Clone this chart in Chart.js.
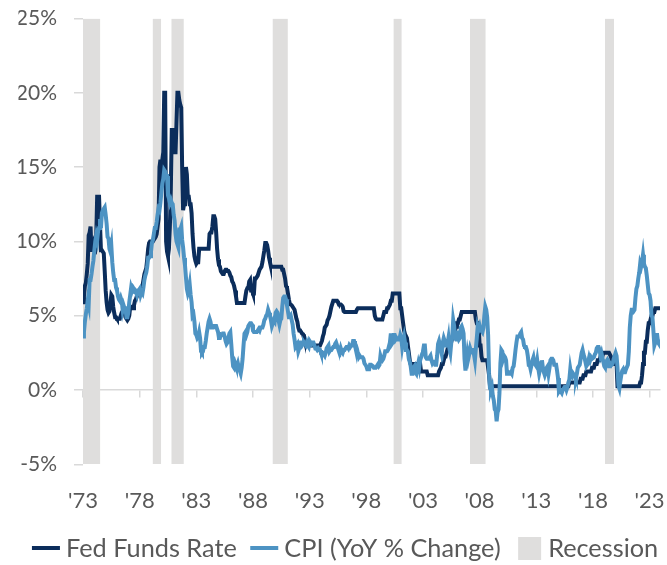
<!DOCTYPE html>
<html><head><meta charset="utf-8">
<script src="https://cdn.jsdelivr.net/npm/chart.js@4"></script>
<style>html,body{margin:0;padding:0;background:#fff}#wrap{width:667px;height:565px}</style>
</head><body><div id="wrap"><canvas id="c" width="667" height="565"></canvas></div>
<script>
// Monthly data, Jan 1973 .. Dec 2023
const startYear = 1973;
const fedFunds = [
5.9,6.3,7.0,7.2,7.8,8.5,10.4,10.6,11.0,9.3,9.7,9.9,
9.6,9.5,10.3,13.0,13.0,13.0,13.0,9.4,9.4,9.3,9.2,8.0,
6.7,5.9,5.4,5.2,5.3,5.8,6.4,6.3,5.6,5.2,4.9,4.9,
4.8,4.8,4.8,4.8,5.0,5.2,5.3,5.2,5.2,4.9,4.8,4.7,
4.8,5.0,5.6,5.6,5.5,5.5,5.7,6.0,6.1,6.3,6.5,6.5,
6.6,6.7,6.8,7.0,7.4,7.8,8.0,8.2,8.8,9.5,9.9,10.0,
10.0,10.0,10.0,10.1,10.2,10.3,10.5,11.0,11.5,15.0,15.5,13.7,
15.5,16.0,20.0,20.0,10.0,9.3,9.0,9.5,11.0,13.5,17.5,17.5,
17.5,16.0,16.0,18.0,20.0,20.0,19.5,19.2,19.0,15.0,12.1,12.5,
13.5,15.0,14.5,13.0,13.0,12.5,12.5,11.9,10.5,9.6,9.0,8.7,
8.5,8.6,8.6,9.5,9.5,9.5,9.5,9.5,9.5,9.5,9.5,9.5,
9.5,9.5,10.5,10.6,10.6,11.0,11.7,11.7,11.5,10.6,9.5,8.8,
8.4,8.3,8.0,7.9,7.8,7.8,8.0,8.1,8.1,8.0,8.0,7.9,
7.7,7.6,7.3,7.2,7.0,6.7,6.3,5.85,5.85,5.85,5.85,5.85,
5.85,5.85,5.85,5.85,6.3,6.7,6.85,6.85,7.3,7.4,6.7,6.7,
6.5,6.5,7.5,7.5,7.6,7.7,7.9,8.1,8.2,8.3,8.6,9.0,
9.4,9.9,9.9,9.75,9.4,8.9,8.6,8.3,8.3,8.3,8.3,8.3,
8.3,8.3,8.3,8.3,8.3,8.3,8.3,8.1,8.1,7.8,7.5,7.0,
6.9,6.5,6.1,5.8,5.75,5.7,5.6,5.5,5.4,5.1,4.8,4.6,
4.2,4.0,4.0,3.9,3.8,3.75,3.5,3.3,3.1,3.0,3.0,3.0,
3.0,3.0,3.0,3.0,3.0,3.0,3.0,3.0,3.0,3.0,3.0,3.0,
3.0,3.3,3.6,3.8,4.2,4.3,4.4,4.7,4.8,5.0,5.3,5.6,
5.8,6.0,6.0,6.0,6.0,6.0,5.9,5.75,5.75,5.75,5.7,5.6,
5.3,5.25,5.25,5.25,5.25,5.25,5.25,5.25,5.25,5.25,5.25,5.25,
5.25,5.25,5.4,5.5,5.5,5.5,5.5,5.5,5.5,5.5,5.5,5.5,
5.5,5.5,5.5,5.5,5.5,5.5,5.5,5.5,5.5,5.0,4.8,4.75,
4.75,4.75,4.75,4.75,4.75,4.75,5.0,5.25,5.25,5.25,5.5,5.5,
5.5,5.75,6.0,6.0,6.5,6.5,6.5,6.5,6.5,6.5,6.5,6.5,
5.5,5.5,5.0,4.5,4.0,3.75,3.75,3.5,3.0,2.5,2.0,1.75,
1.75,1.75,1.75,1.75,1.75,1.75,1.75,1.75,1.75,1.75,1.25,1.25,
1.25,1.25,1.25,1.25,1.25,1.0,1.0,1.0,1.0,1.0,1.0,1.0,
1.0,1.0,1.0,1.0,1.0,1.25,1.25,1.5,1.75,1.75,2.0,2.25,
2.25,2.5,2.75,2.75,3.0,3.25,3.25,3.5,3.75,3.75,4.0,4.25,
4.5,4.5,4.75,4.75,5.0,5.25,5.25,5.25,5.25,5.25,5.25,5.25,
5.25,5.25,5.25,5.25,5.25,5.25,5.25,5.25,4.75,4.5,4.5,4.25,
3.0,3.0,2.25,2.0,2.0,2.0,2.0,2.0,2.0,1.5,1.0,0.25,
0.25,0.25,0.25,0.25,0.25,0.25,0.25,0.25,0.25,0.25,0.25,0.25,
0.25,0.25,0.25,0.25,0.25,0.25,0.25,0.25,0.25,0.25,0.25,0.25,
0.25,0.25,0.25,0.25,0.25,0.25,0.25,0.25,0.25,0.25,0.25,0.25,
0.25,0.25,0.25,0.25,0.25,0.25,0.25,0.25,0.25,0.25,0.25,0.25,
0.25,0.25,0.25,0.25,0.25,0.25,0.25,0.25,0.25,0.25,0.25,0.25,
0.25,0.25,0.25,0.25,0.25,0.25,0.25,0.25,0.25,0.25,0.25,0.25,
0.25,0.25,0.25,0.25,0.25,0.25,0.25,0.25,0.25,0.25,0.25,0.5,
0.5,0.5,0.5,0.5,0.5,0.5,0.5,0.5,0.5,0.5,0.5,0.75,
0.75,0.75,1.0,1.0,1.0,1.25,1.25,1.25,1.25,1.25,1.25,1.5,
1.5,1.5,1.75,1.75,1.75,2.0,2.0,2.0,2.25,2.25,2.25,2.5,
2.5,2.5,2.5,2.5,2.5,2.5,2.5,2.25,2.0,1.75,1.75,1.75,
1.75,1.75,0.25,0.25,0.25,0.25,0.25,0.25,0.25,0.25,0.25,0.25,
0.25,0.25,0.25,0.25,0.25,0.25,0.25,0.25,0.25,0.25,0.25,0.25,
0.25,0.25,0.5,0.5,1.0,1.75,2.5,2.5,3.25,3.25,4.0,4.5,
4.5,4.75,5.0,5.0,5.25,5.25,5.5,5.5,5.5,5.5,5.5,5.5
];
const cpi = [
3.6,3.9,4.6,5.1,5.5,6.0,5.7,7.4,7.4,7.8,8.3,8.7,
9.4,10.0,10.4,10.1,10.7,10.9,11.5,10.9,11.9,12.1,12.2,12.3,
11.8,11.2,10.3,10.2,9.5,9.3,9.7,8.6,7.9,7.4,7.4,6.9,
6.7,6.3,6.1,6.0,6.2,6.0,5.4,5.7,5.5,5.5,4.9,4.9,
5.2,5.9,6.4,6.9,6.7,6.9,6.8,6.6,6.6,6.4,6.7,6.7,
6.8,6.4,6.6,6.5,6.9,7.4,7.7,7.9,8.3,8.9,8.9,9.0,
9.3,9.9,10.1,10.5,10.9,10.9,11.3,11.8,12.2,12.1,12.6,13.3,
13.9,14.2,14.8,14.7,14.4,14.4,13.1,12.9,12.6,12.8,12.6,12.5,
11.8,11.4,10.5,10.0,9.8,9.6,10.8,10.8,11.0,10.1,9.6,8.9,
8.4,7.6,6.8,6.5,6.7,7.1,6.4,5.9,5.0,5.1,4.6,3.8,
3.7,3.5,3.6,3.9,3.5,2.6,2.5,2.6,2.9,2.9,3.3,3.8,
4.2,4.6,4.8,4.6,4.2,4.2,4.2,4.3,4.3,4.3,4.1,3.9,
3.5,3.5,3.7,3.7,3.8,3.8,3.6,3.3,3.1,3.2,3.5,3.8,
3.9,3.1,2.2,1.6,1.5,1.8,1.6,1.6,1.8,1.5,1.3,1.1,
1.5,2.1,3.0,3.8,3.9,3.7,3.9,4.3,4.4,4.5,4.5,4.4,
4.0,3.9,3.9,3.9,3.9,4.0,4.1,4.0,4.2,4.2,4.2,4.4,
4.7,4.8,5.0,5.1,5.4,5.2,5.0,4.7,4.3,4.5,4.7,4.6,
5.2,5.3,5.2,4.7,4.4,4.7,4.8,5.6,6.2,6.3,6.3,6.1,
5.7,5.3,4.9,4.9,5.0,4.7,4.4,3.8,3.4,2.9,3.0,3.1,
2.6,2.8,3.2,3.2,3.0,3.1,3.2,3.1,3.0,3.2,3.0,2.9,
3.3,3.2,3.1,3.2,3.2,3.0,2.8,2.8,2.7,2.8,2.7,2.7,
2.5,2.5,2.5,2.4,2.3,2.5,2.8,2.9,3.0,2.6,2.7,2.7,
2.8,2.9,2.9,3.1,3.2,3.0,2.8,2.6,2.5,2.8,2.6,2.5,
2.7,2.7,2.8,2.9,2.9,2.8,3.0,2.9,3.0,3.0,3.3,3.3,
3.0,3.0,2.8,2.5,2.2,2.3,2.2,2.2,2.2,2.1,1.8,1.7,
1.6,1.4,1.4,1.4,1.7,1.7,1.7,1.6,1.5,1.5,1.5,1.6,
1.7,1.6,1.7,2.3,2.1,2.0,2.1,2.3,2.6,2.6,2.6,2.7,
2.7,3.2,3.8,3.1,3.2,3.7,3.7,3.4,3.5,3.4,3.4,3.4,
3.7,3.5,2.9,3.3,3.6,3.2,2.7,2.7,2.6,2.1,1.9,1.6,
1.1,1.1,1.5,1.6,1.2,1.1,1.5,1.8,1.5,2.0,2.2,2.4,
2.6,3.0,3.0,2.2,2.1,2.1,2.1,2.2,2.3,2.0,1.8,1.9,
1.9,1.7,1.7,2.3,3.1,3.3,3.0,2.7,2.5,3.2,3.5,3.3,
3.0,3.0,3.1,3.5,2.8,2.5,3.2,3.6,4.7,4.3,3.5,3.4,
4.0,3.6,3.4,3.5,4.2,4.3,4.1,3.8,2.1,1.3,2.0,2.5,
2.1,2.4,2.8,2.6,2.7,2.7,2.4,2.0,2.8,3.5,4.3,4.1,
4.3,4.0,4.0,3.9,4.2,5.0,5.6,5.4,4.9,3.7,1.1,0.1,
0.0,0.2,-0.4,-0.7,-1.3,-1.4,-2.1,-1.5,-1.3,-0.2,1.8,2.7,
2.6,2.1,2.3,2.2,2.0,1.1,1.2,1.1,1.1,1.2,1.1,1.5,
1.6,2.1,2.7,3.2,3.6,3.6,3.6,3.8,3.9,3.5,3.4,3.0,
2.9,2.9,2.7,2.3,1.7,1.7,1.4,1.7,2.0,2.2,1.8,1.7,
1.6,2.0,1.5,1.1,1.4,1.8,2.0,1.5,1.2,1.0,1.2,1.5,
1.6,1.1,1.5,2.0,2.1,2.1,2.0,1.7,1.7,1.7,1.3,0.8,
-0.1,0.0,-0.1,-0.2,0.0,0.1,0.2,0.2,0.0,0.2,0.5,0.7,
1.4,1.0,0.9,1.1,1.0,1.0,0.8,1.1,1.5,1.6,1.7,2.1,
2.5,2.7,2.4,2.2,1.9,1.6,1.7,1.9,2.2,2.0,2.2,2.1,
2.1,2.2,2.4,2.5,2.8,2.9,2.9,2.7,2.3,2.5,2.2,1.9,
1.6,1.5,1.9,2.0,1.8,1.6,1.8,1.7,1.7,1.8,2.1,2.3,
2.5,2.3,1.5,0.3,0.1,0.6,1.0,1.3,1.4,1.2,1.2,1.4,
1.4,1.7,2.6,4.2,5.0,5.4,5.4,5.3,5.4,6.2,6.8,7.0,
7.5,7.9,8.5,8.3,8.6,9.1,8.5,8.3,8.2,7.7,7.1,6.5,
6.4,6.0,5.0,4.9,4.0,3.0,3.2,3.7,3.7,3.2,3.1,3.4
];
const recessionStart = [1973.0, 1979.14, 1980.79, 1989.72, 2000.39, 2007.15, 2019.06];
const recessionEnd   = [1974.53, 1979.90, 1981.90, 1991.08, 2001.13, 2008.54, 2019.86];
const xTickYears  = [1973,1978,1983,1988,1993,1998,2003,2008,2013,2018,2023];
const xTickLabels = ["'73","'78","'83","'88","'93","'98","'03","'08","'13","'18","'23"];
const yTickValues = [-5,0,5,10,15,20,25];
const seriesNames = ['Fed Funds Rate','CPI (YoY % Change)','Recession'];

const NAVY = '#0b2d5b', BLUE = '#4d93c3', GRAY = '#dfdedd', TXT = '#595959', AX = '#d9d9d9';
const FONT = 'Lato';

function lineSwatch(color){
  const c = document.createElement('canvas'); c.width = 66; c.height = 4;
  const g = c.getContext('2d'); g.fillStyle = color; g.fillRect(36,0,28,4); return c;
}
function boxSwatch(color){
  const c = document.createElement('canvas'); c.width = 66; c.height = 23;
  const g = c.getContext('2d'); g.fillStyle = color; g.fillRect(40,0,23,23); return c;
}
const toPoints = arr => arr.map((v,i) => ({x: startYear + i/12, y: v}));
const xMax = startYear + (fedFunds.length - 1)/12;

const datasets = [
  {label: seriesNames[0], data: toPoints(fedFunds), borderColor: NAVY, backgroundColor: NAVY,
   borderWidth: 4, pointRadius: 0, tension: 0, fill: false, order: 1, pointStyle: lineSwatch(NAVY)},
  {label: seriesNames[1], data: toPoints(cpi), borderColor: BLUE, backgroundColor: BLUE,
   borderWidth: 4, pointRadius: 0, tension: 0, fill: false, order: 0, pointStyle: lineSwatch(BLUE)}
];
const recSwatch = boxSwatch(GRAY);
recessionStart.forEach((s,i) => {
  datasets.push({label: seriesNames[2], data: [{x: s, y: 25}, {x: recessionEnd[i], y: 25}],
    borderColor: 'rgba(0,0,0,0)', borderWidth: 0, backgroundColor: GRAY, pointRadius: 0,
    fill: {value: -5}, order: 2, pointStyle: recSwatch});
});

const setXTicks = s => { s.ticks = xTickYears.map(v => ({value: v})); };
const noPad = s => { s.paddingTop = 0; s.paddingBottom = 0; s.paddingLeft = 0; s.paddingRight = 0; };

// draw the legend without clipping it to its (compact) layout box
const legendNoClip = {
  id: 'legendNoClip',
  beforeDraw(chart) {
    const lg = chart.legend;
    if (lg && !lg._noClip) {
      lg._noClip = true;
      lg.draw = function () { if (this.options.display) this._draw(); };
    }
  }
};

new Chart(document.getElementById('c'), {
  type: 'line',
  data: {datasets},
  plugins: [legendNoClip],
  options: {
    responsive: false, animation: false, devicePixelRatio: 1,
    layout: {padding: {top: 18.5, right: 0, left: 18.5, bottom: -6}},
    plugins: {
      tooltip: {enabled: false},
      legend: {
        position: 'bottom', align: 'start',
        labels: {
          usePointStyle: true, pointStyleWidth: 48.85, padding: -14, color: TXT,
          font: {family: FONT, size: 25.3},
          filter: item => item.datasetIndex < 3,
          sort: (a, b) => a.datasetIndex - b.datasetIndex
        }
      }
    },
    scales: {
      x: {
        type: 'linear', min: startYear, max: xMax, position: 'bottom',
        afterBuildTicks: setXTicks,
        afterFit: s => { s.height = 85.4; noPad(s); },
        grid: {display: false, drawTicks: false}, border: {display: false},
        ticks: {autoSkip: false, maxRotation: 0, color: TXT, padding: 23,
          font: {family: FONT, size: 22},
          callback: v => xTickLabels[xTickYears.indexOf(v)]}
      },
      x2: {
        type: 'linear', axis: 'x', min: startYear, max: xMax, position: {y: 0},
        afterBuildTicks: setXTicks,
        grid: {drawOnChartArea: false, drawTicks: true, tickLength: 7, color: AX, lineWidth: 1.5},
        border: {display: true, color: AX, width: 1.5},
        ticks: {display: false}
      },
      y: {
        min: -5, max: 25, position: 'left',
        afterBuildTicks: s => { s.ticks = yTickValues.map(v => ({value: v})); },
        afterFit: s => { s.width = 64.5; noPad(s); },
        grid: {drawOnChartArea: false, drawTicks: true, tickLength: 9, color: AX, lineWidth: 1.5},
        border: {display: false},
        ticks: {color: TXT, padding: 17, font: {family: FONT, size: 21}, callback: v => v + '%'}
      },
      yRight: {
        type: 'linear', axis: 'y', position: 'right', display: true, min: 0, max: 1,
        afterFit: s => { s.width = 7; noPad(s); },
        grid: {display: false, drawTicks: false}, border: {display: false},
        ticks: {display: false}
      }
    }
  }
});
</script>
</body></html>
